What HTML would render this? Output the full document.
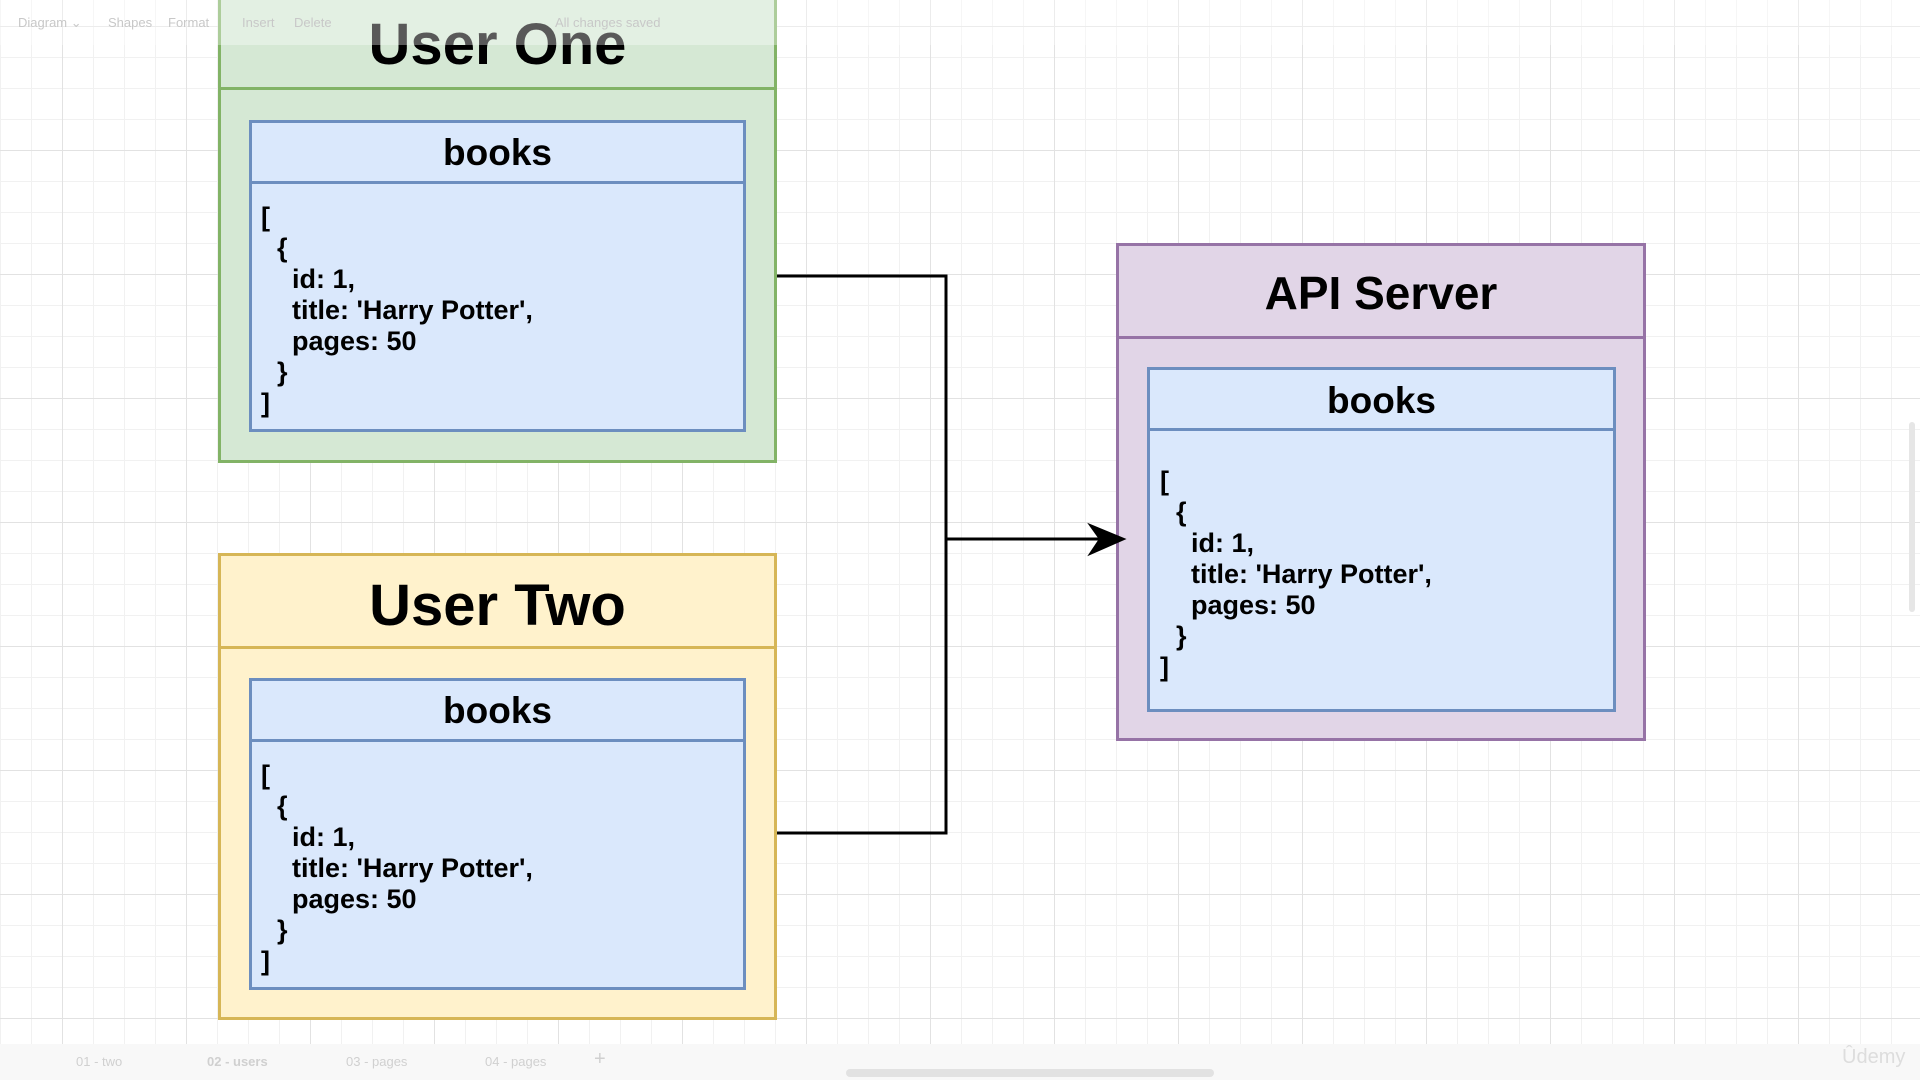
<!DOCTYPE html>
<html><head><meta charset="utf-8"><style>
html,body{margin:0;padding:0}
body{width:1920px;height:1080px;position:relative;overflow:hidden;font-family:"Liberation Sans",Arial,sans-serif;
background-color:#fff;
background-image:
linear-gradient(to right,#e2e2e2 1px,transparent 1px),
linear-gradient(to bottom,#e2e2e2 1px,transparent 1px),
linear-gradient(to right,#f1f1f1 1px,transparent 1px),
linear-gradient(to bottom,#f1f1f1 1px,transparent 1px);
background-size:124px 124px,124px 124px,31px 31px,31px 31px;
background-position:62px 26px,62px 26px,0 26px,0 26px;}
.box{position:absolute;box-sizing:border-box;border:3px solid}
.hdr{position:absolute;left:0;right:0;top:0;box-sizing:border-box;border-bottom:3px solid;text-align:center;font-weight:bold;color:#000}
.code{position:absolute;font-weight:bold;font-size:27px;line-height:31px;white-space:pre;color:#000}
.code div.a{padding-left:16px}
.code div.c{padding-left:31px}
.t{font-size:58px}
.b{font-size:37px}
</style></head><body>

<!-- User One -->
<div class="box" style="left:218px;top:-40px;width:559px;height:503px;background:#d5e8d4;border-color:#82b366">
  <div class="hdr t" style="height:127px;line-height:128px;border-color:#82b366;"><span style="position:relative;top:18px">User One</span></div>
  <div class="box" style="left:28px;top:157px;width:497px;height:312px;background:#dae8fc;border-color:#6c8ebf">
    <div class="hdr b" style="height:61px;line-height:60px;border-color:#6c8ebf">books</div>
    <div class="code" style="left:9px;top:79px"><div>[</div><div class="a">{</div><div class="c">id: 1,</div><div class="c">title: 'Harry Potter',</div><div class="c">pages: 50</div><div class="a">}</div><div>]</div></div>
  </div>
</div>

<!-- User Two -->
<div class="box" style="left:218px;top:553px;width:559px;height:467px;background:#fff2cc;border-color:#d6b656">
  <div class="hdr t" style="height:93px;line-height:100px;border-color:#d6b656">User Two</div>
  <div class="box" style="left:28px;top:122px;width:497px;height:312px;background:#dae8fc;border-color:#6c8ebf">
    <div class="hdr b" style="height:61px;line-height:60px;border-color:#6c8ebf">books</div>
    <div class="code" style="left:9px;top:79px"><div>[</div><div class="a">{</div><div class="c">id: 1,</div><div class="c">title: 'Harry Potter',</div><div class="c">pages: 50</div><div class="a">}</div><div>]</div></div>
  </div>
</div>

<!-- API Server -->
<div class="box" style="left:1116px;top:243px;width:530px;height:498px;background:#e1d5e7;border-color:#9673a6">
  <div class="hdr" style="height:93px;line-height:94px;font-size:46px;border-color:#9673a6">API Server</div>
  <div class="box" style="left:28px;top:121px;width:469px;height:345px;background:#dae8fc;border-color:#6c8ebf">
    <div class="hdr b" style="height:61px;line-height:62px;border-color:#6c8ebf">books</div>
    <div class="code" style="left:10px;top:96px"><div>[</div><div class="a">{</div><div class="c">id: 1,</div><div class="c">title: 'Harry Potter',</div><div class="c">pages: 50</div><div class="a">}</div><div>]</div></div>
  </div>
</div>

<svg style="position:absolute;left:0;top:0" width="1920" height="1080">
  <path d="M777 276 H946 V833 H777" fill="none" stroke="#000" stroke-width="3"/>
  <path d="M946 539 H1100" fill="none" stroke="#000" stroke-width="3"/>
  <path d="M1124 539 L1090 525 L1100 539 L1090 554 Z" fill="#000" stroke="#000" stroke-width="2" stroke-linejoin="miter"/>
</svg>

<!-- toolbar overlay -->
<div style="position:absolute;left:0;top:0;width:1920px;height:45px;background:rgba(255,255,255,0.35);font-size:13px;color:#c8c8c8">
  <span style="position:absolute;left:18px;top:15px">Diagram ⌄</span>
  <span style="position:absolute;left:108px;top:15px">Shapes</span>
  <span style="position:absolute;left:168px;top:15px">Format</span>
  <span style="position:absolute;left:242px;top:15px">Insert</span>
  <span style="position:absolute;left:294px;top:15px">Delete</span>
  <span style="position:absolute;left:555px;top:15px">All changes saved</span>
</div>
<!-- bottom bar -->
<div style="position:absolute;left:0;top:1044px;width:1920px;height:36px;background:#f8f8f8;font-size:13px;color:#d0d0d0">
  <span style="position:absolute;left:76px;top:10px">01 - two</span>
  <span style="position:absolute;left:207px;top:10px;font-weight:bold">02 - users</span>
  <span style="position:absolute;left:346px;top:10px">03 - pages</span>
  <span style="position:absolute;left:485px;top:10px">04 - pages</span>
  <span style="position:absolute;left:594px;top:4px;font-size:20px">+</span>
  <span style="position:absolute;left:1842px;top:2px;font-size:20px;color:#ddd">Ûdemy</span>
  <div style="position:absolute;left:846px;top:25px;width:368px;height:8px;border-radius:4px;background:#e2e2e2"></div>
</div>
<div style="position:absolute;left:1909px;top:422px;width:6px;height:190px;border-radius:3px;background:#e6e6e6"></div>
</body></html>
